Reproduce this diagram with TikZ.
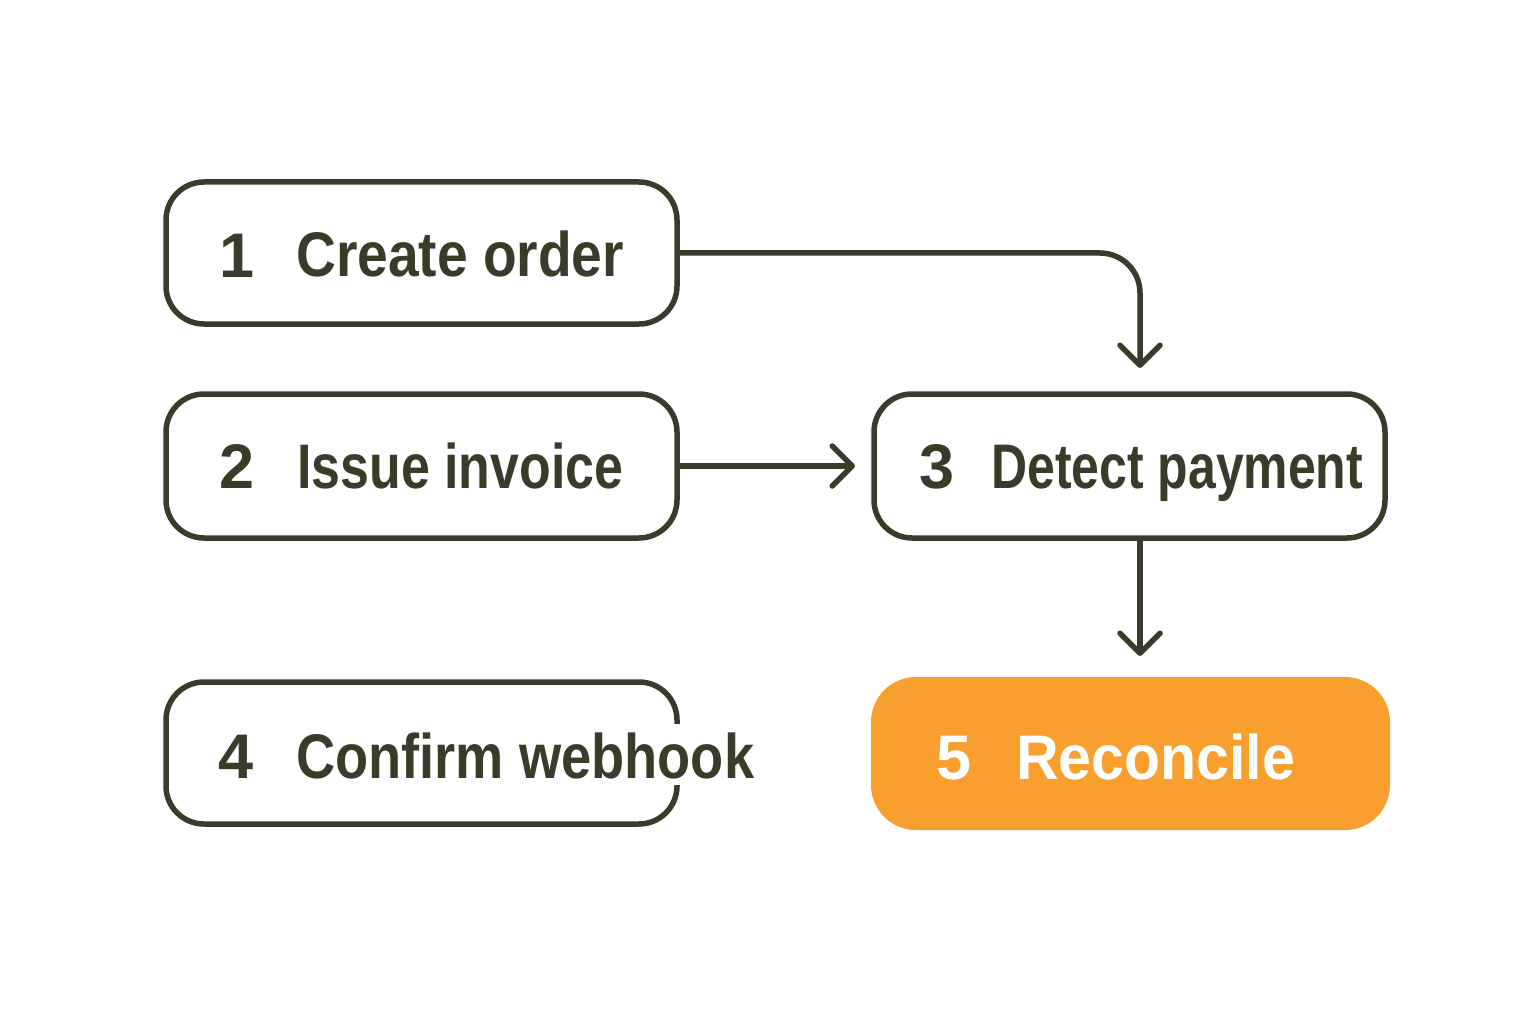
\documentclass[tikz,border=0pt]{standalone}
\usepackage{fontspec}
\setmainfont{Liberation Sans}
\usetikzlibrary{arrows.meta}
\definecolor{ink}{HTML}{3B3B29}
\definecolor{accent}{HTML}{F99F2D}
\newcommand{\fitw}[2]{\resizebox{#1pt}{\height}{#2}}
\begin{document}
\begin{tikzpicture}[x=1pt,y=-1pt,
  box/.style={draw=ink, line width=5.5pt, rounded corners=38pt, fill=white, inner sep=0pt},
  hotbox/.style={draw=none, fill=accent, rounded corners=45pt, inner sep=0pt},
  lbl/.style={inner sep=0pt, text=ink, font=\fontsize{63}{70}\selectfont\bfseries, anchor=base west},
  num/.style={inner sep=0pt, text=ink, font=\fontsize{63}{70}\selectfont\bfseries, anchor=base},
  conn/.style={draw=ink, line width=5.5pt, rounded corners=40pt, line cap=round,
    -{Straight Barb[length=20pt,width=40pt,round]}}
]
\useasboundingbox (0,0) rectangle (1536,1024);

% boxes
\node[box, minimum width=511pt, minimum height=142pt] (b1) at (421.5,253) {};
\node[box, minimum width=511pt, minimum height=144pt] (b2) at (421.5,466) {};
\node[box, minimum width=511pt, minimum height=144pt] (b3) at (1129.5,466) {};
\node[box, minimum width=511pt, minimum height=142pt] (b4) at (421.5,753) {};
\node[hotbox, minimum width=519pt, minimum height=153pt] (b5) at (1130.5,753.5) {};

% labels
\node[num] (n1) at (237,277) {1};
\node[lbl] (l1) at (296,277) {\fitw{328}{Create order}};
\node[num] (n2) at (237,488) {2};
\node[lbl] (l2) at (297,488) {\fitw{326}{Issue invoice}};
\node[num] (n3) at (937,488) {3};
\node[lbl] (l3) at (991,488) {\fitw{372}{Detect payment}};
\node[num] (n4) at (236,778) {4};
\node[lbl, fill=white, text height=54pt, text depth=7pt, inner ysep=0pt] (l4) at (296,778) {\fitw{458}{Confirm webhook}};
\node[num, text=white] (n5) at (954.5,779) {5};
\node[lbl, text=white] (l5) at (1016,779) {\fitw{279}{Reconcile}};

% arrow end points
\coordinate (t1) at (1140,368);
\coordinate (t2) at (855,466);
\coordinate (t3) at (1140,656);
\coordinate (s3) at ([xshift=10.5pt]b3.south);

% connectors
\draw[conn] (b1.east) -| (t1);
\draw[conn] (b2.east) -- (t2);
\draw[conn] (s3) -- (t3);
\end{tikzpicture}
\end{document}
